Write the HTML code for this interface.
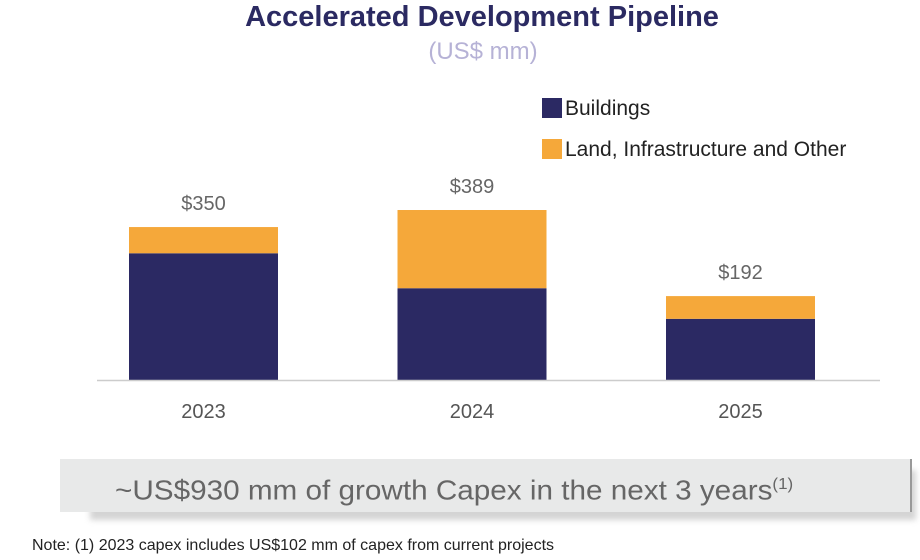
<!DOCTYPE html>
<html><head><meta charset="utf-8"><style>
body{margin:0;width:920px;height:560px;background:#fff;font-family:"Liberation Sans",sans-serif;overflow:hidden;position:relative}
.t{position:absolute;white-space:nowrap}
</style></head><body>
<div class="t" style="left:0;width:964px;text-align:center;top:1px;font-size:29px;font-weight:bold;color:#2b2a62">Accelerated Development Pipeline</div>
<div class="t" style="left:0;width:966px;text-align:center;top:38px;font-size:24px;color:#b6b2d6">(US$ mm)</div>
<div class="t" style="left:542px;top:97px;font-size:21px;color:#222"><span style="display:inline-block;width:20px;height:20px;background:#2b2963;vertical-align:-3px;margin-right:3px"></span>Buildings</div>
<div class="t" style="left:542px;top:138px;font-size:21px;color:#222"><span style="display:inline-block;width:20px;height:20px;background:#f5a83a;vertical-align:-3px;margin-right:3px"></span>Land, Infrastructure and Other</div>
<svg id="c" width="920" height="440" style="position:absolute;left:0;top:0"></svg>
<div style="position:absolute;left:90px;top:470px;width:826px;height:50px;background:#d4d4d4;filter:blur(3px)"></div>
<div class="t" style="left:60px;top:459px;width:850px;height:53px;background:#e8e9e9;border-right:2px solid #999;font-size:28px;color:#666;line-height:52px"><span style="display:inline-block;margin-left:55px;transform:scaleX(1.06);transform-origin:left">~US$930 mm of growth Capex in the next 3 years<sup style="font-size:16px">(1)</sup></span></div>
<div class="t" style="left:32px;top:537px;font-size:16px;color:#222">Note: (1) 2023 capex includes US$102 mm of capex from current projects</div>
<script>
const categories=["2023","2024","2025"];
const buildings=[290,210,140];
const land=[60,179,52];
const totals=["$350","$389","$192"];
const svg=document.getElementById('c');const NS="http://www.w3.org/2000/svg";
const base=380,scale=0.437,x0=129,step=268.5,bw=149;
const y=v=>base-v*scale;
function mk(t,a){const e=document.createElementNS(NS,t);for(const k in a)e.setAttribute(k,a[k]);svg.appendChild(e);return e;}
categories.forEach((c,i)=>{
 const x=x0+i*step;
 const b=mk('rect',{x:x,y:y(buildings[i]),width:bw,height:buildings[i]*scale,fill:'#2b2963'});
 
 
 const l=mk('rect',{x:x,y:y(buildings[i]+land[i]),width:bw,height:land[i]*scale,fill:'#f5a83a'});
 
 
 const tl=mk('text',{x:x+bw/2,y:y(buildings[i]+land[i])-17,'text-anchor':'middle','font-size':20,fill:'#666','font-family':'Liberation Sans'});tl.textContent=totals[i];
 
 
 const xl=mk('text',{x:x+bw/2,y:418,'text-anchor':'middle','font-size':20,fill:'#555','font-family':'Liberation Sans'});xl.textContent=c;
 
 
});
const ax=mk('line',{x1:97,x2:880,y1:base+0.5,y2:base+0.5,stroke:'#ccc','stroke-width':1.5});


</script>
</body></html>
